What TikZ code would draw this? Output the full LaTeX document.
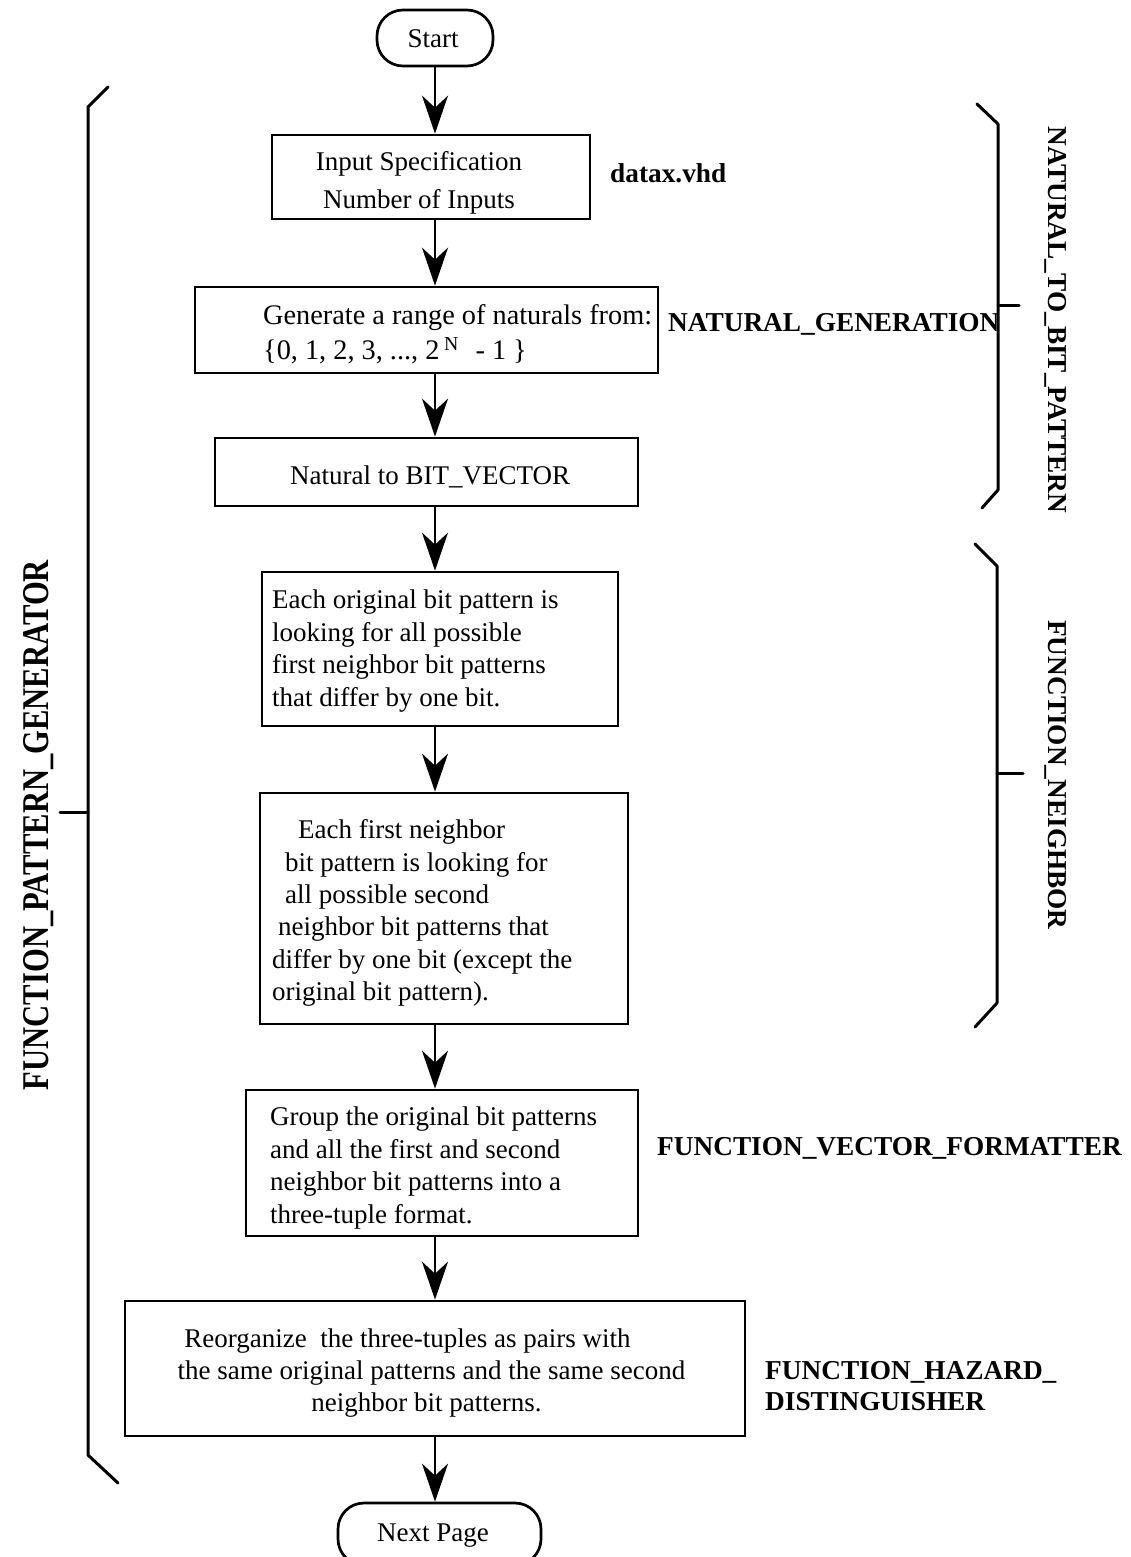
\documentclass[tikz,border=0pt]{standalone}
\usepackage{fontspec}
\setmainfont{Liberation Serif}
\usetikzlibrary{arrows.meta}
\begin{document}
\begin{tikzpicture}[x=1pt,y=-1pt,
  box/.style={draw,line width=2.7pt,inner sep=0pt},
  term/.style={box,rounded corners=26pt},
  txt/.style={inner sep=0pt,font=\fontsize{27}{32.4}\selectfont},
  lbl/.style={inner sep=0pt,font=\fontsize{27.3}{31}\selectfont\bfseries},
  arr/.style={line width=2.4pt,-{Stealth[length=38pt,width=26pt,inset=12pt]}},
  brk/.style={line width=3pt,line cap=round,line join=round}]
\useasboundingbox (0,0) rectangle (1130,1557);

% flow column
\coordinate (spine) at (435,0);

% terminals and process boxes
\node[term,minimum width=116pt,minimum height=56pt] (start) at (435,38) {};
\node[txt] (tstart) at (433,39) {Start};

\node[box,minimum width=318pt,minimum height=84pt] (b1) at (431,177) {};
\node[txt,align=center,font=\fontsize{27}{38}\selectfont] (t1) at (419,183)
  {Input Specification\\Number of Inputs};

\node[box,minimum width=463pt,minimum height=86pt] (b2) at (426.5,330) {};
\node[txt,align=left,anchor=west,font=\fontsize{28.3}{35}\selectfont] (t2) at (263,334)
  {Generate a range of naturals from:\\\{0, 1, 2, 3, ..., 2\,\textsuperscript{N}\,\, - 1 \}};

\node[box,minimum width=423pt,minimum height=68pt] (b3) at (426.5,472) {};
\node[txt,anchor=west] (t3) at (290,477) {Natural to BIT\_VECTOR};

\node[box,minimum width=356pt,minimum height=154pt] (b4) at (440,649) {};
\node[txt,align=left,anchor=west] (t4) at (272,651)
  {Each original bit pattern is\\looking for all possible\\first neighbor bit patterns\\that differ by one bit.};

\node[box,minimum width=368pt,minimum height=231pt] (b5) at (444,908.5) {};
\node[txt,align=left,anchor=west] (t5) at (272,913)
  {\hspace*{26pt}Each first neighbor\\\hspace*{13pt}bit pattern is looking for\\\hspace*{13pt}all possible second\\\hspace*{6pt}neighbor bit patterns that\\differ by one bit (except the\\original bit pattern).};

\node[box,minimum width=392pt,minimum height=146pt] (b6) at (442,1163) {};
\node[txt,align=left,anchor=west] (t6) at (270,1168)
  {Group the original bit patterns\\and all the first and second\\neighbor bit patterns into a\\three-tuple format.};

\node[box,minimum width=620pt,minimum height=135pt] (b7) at (435,1368.5) {};
\node[txt,align=center] (t7) at (431.5,1373)
  {Reorganize\ \ the three-tuples as pairs with\hspace*{48pt}\\the same original patterns and the same second\\neighbor bit patterns.\hspace*{10pt}};

\node[term,minimum width=203pt,minimum height=62pt] (next) at (439.5,1534) {};
\node[txt] (tnext) at (433,1536) {Next Page};

% connectors
\draw[arr] (start.south -| spine) -- (b1.north -| spine);
\draw[arr] (b1.south -| spine) -- (b2.north -| spine);
\draw[arr] (b2.south -| spine) -- (b3.north -| spine);
\draw[arr] (b3.south -| spine) -- (b4.north -| spine);
\draw[arr] (b4.south -| spine) -- (b5.north -| spine);
\draw[arr] (b5.south -| spine) -- (b6.north -| spine);
\draw[arr] (b6.south -| spine) -- (b7.north -| spine);
\draw[arr] (b7.south -| spine) -- (next.north -| spine);

% module names beside the boxes
\node[lbl,anchor=west] (lx) at (610,173) {datax.vhd};
\node[lbl,anchor=west] (lng) at (668,324) {NATURAL\_GENERATION};
\node[lbl,anchor=west] (lvf) at (657,1148) {FUNCTION\_VECTOR\_FORMATTER};
\node[lbl,anchor=west,align=left] (lhd) at (765,1386) {FUNCTION\_HAZARD\_\\DISTINGUISHER};

% grouping brackets
\draw[brk] (108,87) -- (88,107) -- (88,1455) -- (118,1483);
\draw[brk] (60,812) -- (88,812);
\draw[brk] (977,104) -- (998,124) -- (998,490) -- (982,508);
\draw[brk] (998,305) -- (1019,305);
\draw[brk] (975,544) -- (997,566) -- (997,1003) -- (975,1027);
\draw[brk] (997,773) -- (1023,773);

% group names
\node[lbl,rotate=-90] (lnb) at (1056,320) {NATURAL\_TO\_BIT\_PATTERN};
\node[lbl,rotate=-90] (lfn) at (1056,775) {FUNCTION\_NEIGHBOR};
\node[inner sep=0pt,rotate=90,anchor=base] (lpg) at (48,825)
  {\resizebox{530pt}{25pt}{\bfseries FUNCTION\_PATTERN\_GENERATOR}};
\end{tikzpicture}
\end{document}
